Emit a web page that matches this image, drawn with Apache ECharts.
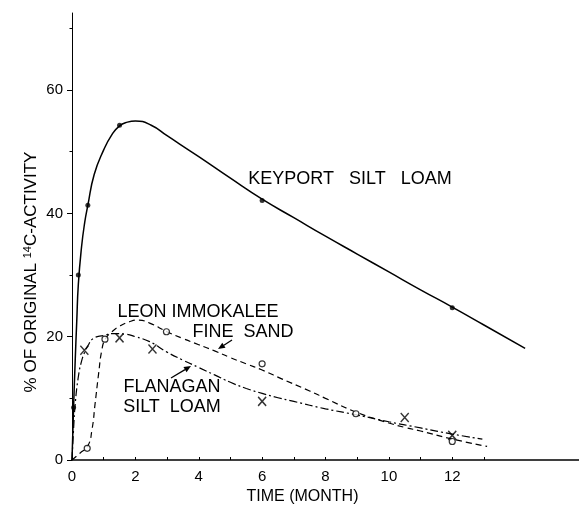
<!DOCTYPE html>
<html><head><meta charset="utf-8">
<script src="https://cdn.jsdelivr.net/npm/echarts@6/dist/echarts.min.js"></script>
<style>html,body{margin:0;padding:0;background:#fff}#c{width:579px;height:505px}</style>
</head><body><div id="c"></div>
<script>
// ---- data ----
const xTickLabels = [0, 2, 4, 6, 8, 10, 12];
const xTicks = [1, 2, 3, 4, 5, 6, 7, 8, 9, 10, 11, 12, 13];
const yTickLabels = [0, 20, 40, 60];
const yMinorTicks = [10, 30, 50, 70];

const keyportPoints = [[0.05, 8.5], [0.2, 30], [0.5, 41.3], [1.5, 54.3], [6, 42.1], [12, 24.7]];
const keyportCurve = [[0, 0], [0.05, 8.5], [0.1, 16], [0.15, 22.5], [0.2, 28.5], [0.3, 34.5], [0.4, 38.5],
  [0.5, 41.3], [0.7, 46.3], [1.0, 50.3], [1.25, 52.7], [1.5, 54.2], [1.75, 54.8], [2.0, 55.0], [2.5, 54.3],
  [3, 52.6], [4, 49.2], [5, 45.7], [6, 42.3], [7, 39.3], [8, 36.3], [9, 33.4], [10, 30.5], [11, 27.6],
  [12, 24.8], [13, 21.9], [14.3, 18.1]];

const leonPoints = [[0.48, 1.9], [1.04, 19.6], [2.98, 20.8], [6, 15.6], [8.96, 7.5], [12, 3.0]];
const leonCurve = [[0, 0], [0.25, 1.1], [0.5, 2.3], [0.63, 4.9], [0.73, 9.2], [0.84, 14], [0.94, 17.8],
  [1.05, 19.6], [1.26, 20.8], [1.5, 21.7], [1.8, 22.4], [2.1, 22.7], [2.45, 22.2], [3, 20.8], [3.5, 19.7],
  [4, 18.7], [4.5, 17.7], [5, 16.6], [5.5, 15.6], [6, 14.6], [6.6, 13.2], [7.5, 11.2], [8, 10.0], [9, 7.7],
  [10, 6.0], [10.5, 5.3], [11, 4.7], [12, 3.4], [13.1, 2.2]];

const flanaganPoints = [[0.39, 17.8], [1.5, 19.8], [2.54, 18], [6, 9.5], [10.5, 6.9], [12, 4.0]];
const flanaganCurve = [[0, 0], [0.05, 5], [0.1, 9], [0.2, 13.5], [0.3, 16], [0.41, 17.6], [0.5, 18.5],
  [0.67, 19.7], [1.0, 20.2], [1.3, 20.5], [1.7, 20.4], [2.0, 20.0], [2.45, 19.2], [3, 17.5], [3.5, 16.2],
  [4, 15.0], [4.5, 13.8], [5, 12.6], [5.5, 11.6], [6, 10.8], [6.5, 10.1], [7, 9.5], [8, 8.3], [9, 7.3],
  [10, 6.2], [11, 5.2], [12, 4.2], [12.95, 3.4]];

// ---- styling ----
const FONT = '"Liberation Sans", Arial, sans-serif';
const BLACK = '#000';
const GRID = { left: 72, right: 0, top: 13, bottom: 45, outerBoundsMode: 'none', containLabel: false };

function arrow(x1, y1, x2, y2) {
  const ang = Math.atan2(y2 - y1, x2 - x1);
  const L = 7, W = 3;
  const bx = x2 - L * Math.cos(ang), by = y2 - L * Math.sin(ang);
  const px = -Math.sin(ang) * W, py = Math.cos(ang) * W;
  return [
    { type: 'line', shape: { x1: x1, y1: y1, x2: bx, y2: by }, style: { stroke: BLACK, lineWidth: 1.3 } },
    { type: 'polygon', shape: { points: [[x2, y2], [bx + px, by + py], [bx - px, by - py]] }, style: { fill: BLACK } }
  ];
}

function label(text, x, y, size) {
  return { type: 'text', x: x, y: y, style: { text: text, font: (size || 18) + 'px ' + FONT, fill: BLACK, align: 'center', verticalAlign: 'middle' } };
}

const lineCommon = { smooth: 0.5, showSymbol: false, silent: true, z: 3 };

const chart = echarts.init(document.getElementById('c'), null, { renderer: 'canvas' });
chart.setOption({
  animation: false,
  backgroundColor: '#fff',
  grid: [Object.assign({}, GRID), Object.assign({}, GRID)],
  xAxis: [{
    type: 'value', gridIndex: 0, min: 0, max: 16, interval: 1,
    axisLine: { show: true, onZero: false, lineStyle: { color: BLACK, width: 1.5 } },
    axisTick: { show: true, inside: true, length: 3, lineStyle: { color: BLACK, width: 1 }, customValues: xTicks },
    axisLabel: { customValues: xTickLabels, color: BLACK, fontFamily: FONT, fontSize: 15, margin: 9 },
    splitLine: { show: false },
    name: 'TIME (MONTH)', nameLocation: 'middle', nameGap: 27,
    nameTextStyle: { color: BLACK, fontFamily: FONT, fontSize: 16, padding: [0, 46, 0, 0] }
  }, {
    type: 'value', gridIndex: 1, min: 0, max: 16, show: false
  }],
  yAxis: [{
    type: 'value', gridIndex: 0, min: 0, max: 72.5, interval: 10, position: 'left',
    axisLine: { show: true, onZero: false, lineStyle: { color: BLACK, width: 1 } },
    axisTick: { show: true, inside: false, length: 5, lineStyle: { color: BLACK, width: 1 }, customValues: yTickLabels },
    axisLabel: { customValues: yTickLabels, color: BLACK, fontFamily: FONT, fontSize: 15, margin: 9 },
    splitLine: { show: false }
  }, {
    type: 'value', gridIndex: 1, min: 0, max: 72.5, interval: 10, position: 'left',
    axisLine: { show: false },
    axisTick: { show: true, inside: false, length: 2.5, lineStyle: { color: BLACK, width: 1 }, customValues: yMinorTicks },
    axisLabel: { show: false },
    splitLine: { show: false }
  }],
  series: [
    Object.assign({ name: 'Keyport curve', type: 'line', data: keyportCurve,
      lineStyle: { color: BLACK, width: 1.5, type: 'solid' } }, lineCommon),
    Object.assign({ name: 'Leon curve', type: 'line', data: leonCurve,
      lineStyle: { color: BLACK, width: 1.2, type: [6, 4] } }, lineCommon),
    Object.assign({ name: 'Flanagan curve', type: 'line', data: flanaganCurve,
      lineStyle: { color: BLACK, width: 1.2, type: [8, 3, 2, 3] } }, lineCommon),
    { name: 'KEYPORT SILT LOAM', type: 'scatter', data: keyportPoints, symbol: 'circle', symbolSize: 5,
      itemStyle: { color: BLACK }, z: 5 },
    { name: 'LEON IMMOKALEE FINE SAND', type: 'scatter', data: leonPoints, symbol: 'circle', symbolSize: 6,
      itemStyle: { color: '#fff', borderColor: BLACK, borderWidth: 1.2 }, z: 5 },
    { name: 'FLANAGAN SILT LOAM', type: 'scatter', data: flanaganPoints, symbol: 'path://M0,0L10,12M10,0L0,12',
      symbolSize: [8, 9], itemStyle: { color: 'transparent', borderColor: BLACK, borderWidth: 1.5 }, z: 5 }
  ],
  graphic: [
    label('KEYPORT   SILT   LOAM', 350, 179),
    label('LEON IMMOKALEE', 198, 312),
    label('FINE  SAND', 243, 332),
    label('FLANAGAN', 172, 387),
    label('SILT  LOAM', 172, 407),
    ...arrow(232, 340, 218, 349),
    ...arrow(171, 378, 191, 366),
    {
      type: 'text', x: 31, y: 272, rotation: Math.PI / 2,
      style: {
        text: '{a|% OF ORIGINAL }{s|14}{a|C-ACTIVITY}',
        align: 'center', verticalAlign: 'middle', fill: BLACK,
        rich: {
          a: { fontFamily: FONT, fontSize: 17, lineHeight: 17, verticalAlign: 'bottom', fill: BLACK },
          s: { fontFamily: FONT, fontSize: 11, lineHeight: 11, padding: [0, 0, 12, 0], verticalAlign: 'top', fill: BLACK }
        }
      }
    }
  ]
});
</script></body></html>
